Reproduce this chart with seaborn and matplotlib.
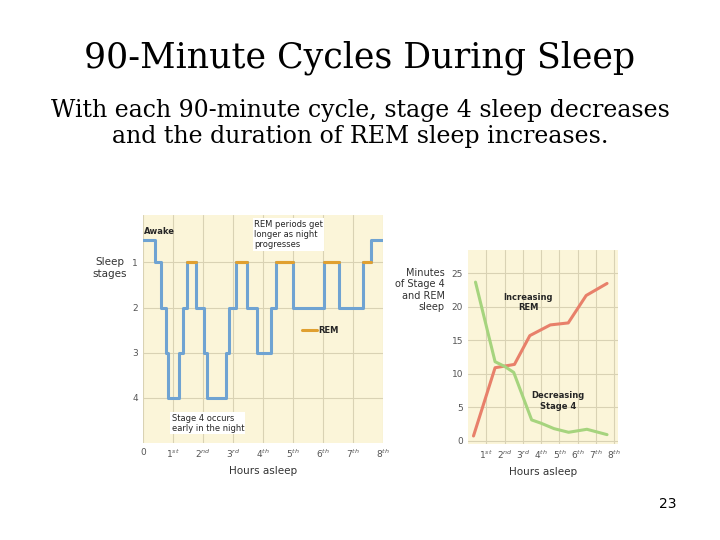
import matplotlib
matplotlib.use("Agg")
import matplotlib.pyplot as plt
import seaborn as sns
import pandas as pd
import numpy as np

# Left chart: sleep stage hypnogram (0.5 = Awake)
stage_times = [0, 0.41, 0.61, 0.76, 0.84, 1.2, 1.32, 1.46, 1.76, 2.03, 2.12, 2.76, 2.88, 3.09, 3.48, 3.79, 4.27, 4.43, 5.0, 6.03, 6.52, 7.32, 7.59, 8.0]
stage_levels = [0.5, 1, 2, 3, 4, 3, 2, 1, 2, 3, 4, 3, 2, 1, 2, 3, 2, 1, 2, 1, 2, 1, 0.5, 0.5]
rem_starts = [1.46, 3.09, 4.43, 6.03, 7.32]
rem_ends = [1.76, 3.48, 5.0, 6.52, 7.59]
hour_labels = ["0", "1$^{st}$", "2$^{nd}$", "3$^{rd}$", "4$^{th}$", "5$^{th}$", "6$^{th}$", "7$^{th}$", "8$^{th}$"]

# Right chart: minutes of stage 4 and REM
rem_x = [0.3, 1.48, 2.54, 3.38, 4.5, 5.48, 6.46, 7.6]
rem_y = [0.7, 10.9, 11.4, 15.7, 17.3, 17.6, 21.7, 23.5]
s4_x = [0.41, 1.48, 2.0, 2.5, 3.48, 4.0, 4.7, 5.5, 6.5, 7.6]
s4_y = [23.7, 11.8, 11.1, 10.2, 3.1, 2.6, 1.8, 1.25, 1.7, 0.9]

sns.set_style("white")
bg = "#fbf5d9"
gridc = "#d9d2b4"
blue = "#6fa3d2"
orange = "#e0a030"

fig = plt.figure(figsize=(7.2, 5.4), dpi=100)
fig.text(0.5, 0.875, "90-Minute Cycles During Sleep", ha="center", fontsize=25, family="DejaVu Serif", color="black")
fig.text(0.5, 0.735, "With each 90-minute cycle, stage 4 sleep decreases\nand the duration of REM sleep increases.",
         ha="center", fontsize=17, family="DejaVu Serif", linespacing=1.2, color="black")
fig.text(0.94, 0.06, "23", ha="right", fontsize=10, color="black")

# Left axes
ax = fig.add_axes([143/720, 1-443/540, 240/720, 228/540])
ax.set_facecolor(bg)
df = pd.DataFrame({"t": stage_times, "s": stage_levels})
sns.lineplot(data=df, x="t", y="s", ax=ax, drawstyle="steps-post", color=blue, lw=2.2)
for a, b in zip(rem_starts, rem_ends):
    ax.plot([a, b], [1, 1], color=orange, lw=2.2)
ax.plot([5.3, 5.8], [2.5, 2.5], color=orange, lw=2.2)
ax.text(5.85, 2.5, "REM", fontsize=6, weight="bold", va="center")
ax.text(0.02, 0.38, "Awake", fontsize=6, weight="bold")
ax.text(3.7, 0.05, "REM periods get\nlonger as night\nprogresses", fontsize=6, va="top",
        bbox=dict(fc="white", ec="none", pad=1))
ax.text(0.95, 4.35, "Stage 4 occurs\nearly in the night", fontsize=6, va="top",
        bbox=dict(fc="white", ec="none", pad=1))
ax.set_xlim(0, 8)
ax.set_ylim(5, -0.05)
ax.set_xticks(range(9))
ax.set_xticklabels(hour_labels, fontsize=6.5, color="#555")
ax.set_yticks([1, 2, 3, 4])
ax.set_yticklabels(["1", "2", "3", "4"], fontsize=6.5, color="#555")
ax.grid(True, color=gridc, lw=0.8)
ax.tick_params(length=0)
for sp in ax.spines.values():
    sp.set_visible(False)
ax.set_xlabel("Hours asleep", fontsize=7.5, color="#333")
ax.set_ylabel("")
fig.text(110/720, 1-268/540, "Sleep\nstages", fontsize=7.5, ha="center", va="center", color="#333")

# Right axes
ax2 = fig.add_axes([468/720, 1-444/540, 150/720, 194/540])
ax2.set_facecolor(bg)
sns.lineplot(x=rem_x, y=rem_y, ax=ax2, color="#e8806a", lw=2.2)
sns.lineplot(x=s4_x, y=s4_y, ax=ax2, color="#a6d47e", lw=2.2)
ax2.set_xlim(0, 8.2)
ax2.set_ylim(-0.5, 28.5)
ax2.set_xticks(range(1, 9))
ax2.set_xticklabels(hour_labels[1:], fontsize=6.5, color="#555")
ax2.set_yticks([0, 5, 10, 15, 20, 25])
ax2.set_yticklabels(["0", "5", "10", "15", "20", "25"], fontsize=6.5, color="#555")
ax2.grid(True, color=gridc, lw=0.8)
ax2.tick_params(length=0)
for sp in ax2.spines.values():
    sp.set_visible(False)
ax2.set_xlabel("Hours asleep", fontsize=7.5, color="#333")
ax2.text(3.3, 19.5, "Increasing\nREM", fontsize=6, weight="bold", ha="center")
ax2.text(4.9, 4.8, "Decreasing\nStage 4", fontsize=6, weight="bold", ha="center")
fig.text(445/720, 1-290/540, "Minutes\nof Stage 4\nand REM\nsleep", fontsize=7, ha="right", va="center", color="#333")

fig.savefig("out.png", dpi=100)
